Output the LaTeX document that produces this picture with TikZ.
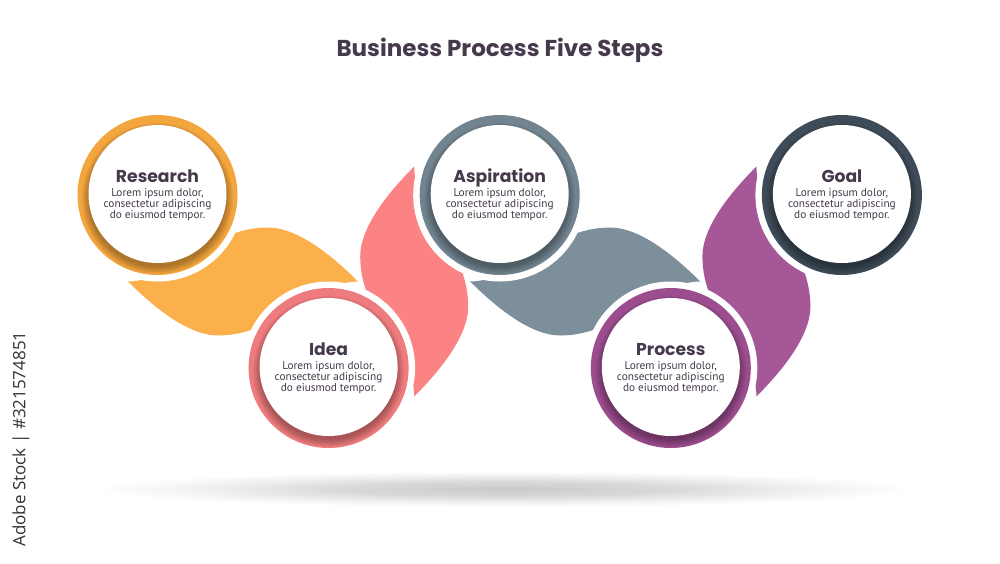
\documentclass[tikz,border=0pt]{standalone}
\usepackage{fontspec}
\setmainfont{PT Sans}
\newfontfamily\popfont{Poppins}
\newfontfamily\wmfont{Open Sans}
\definecolor{txt}{HTML}{45394B}
\definecolor{worange}{HTML}{FBB04C}
\definecolor{rorange}{HTML}{F3A53E}
\definecolor{wpink}{HTML}{FC8383}
\definecolor{rpink}{HTML}{EE7B7D}
\definecolor{wgrey}{HTML}{7D8F9B}
\definecolor{rgrey}{HTML}{728490}
\definecolor{wpurple}{HTML}{A65797}
\definecolor{rpurple}{HTML}{9B4D8E}
\definecolor{rslate}{HTML}{3E4B58}
\definecolor{wmark}{HTML}{333333}
\pgfdeclareradialshading{groundsh}{\pgfpoint{0bp}{0bp}}{color(0bp)=(black!21); color(10bp)=(black!15); color(18bp)=(black!6); color(25bp)=(white); color(50bp)=(white)}
\tikzset{
  hwave/.pic={\path[pic actions] (-115,0) .. controls (-70,0) and (-35,-54) .. (25,-54) .. controls (55,-54) and (90,-25) .. (115,0) .. controls (70,0) and (35,54) .. (-25,54) .. controls (-55,54) and (-90,25) .. (-115,0) -- cycle;},
  vwave/.pic={\path[pic actions] (0,115) .. controls (0,70) and (-54,35) .. (-54,-25) .. controls (-54,-55) and (-25,-90) .. (0,-115) .. controls (0,-70) and (54,-35) .. (54,25) .. controls (54,55) and (25,90) .. (0,115) -- cycle;},
  disk/.style={circle, fill=white, minimum size=138, inner sep=0},
  ttl/.style={font=\popfont\bfseries\fontsize{17.2}{20}\selectfont, text=txt, anchor=base, inner sep=0},
  bodyline/.style={font=\fontsize{11.3}{13}\selectfont, text=txt, anchor=base, inner sep=0},
  maintitle/.style={font=\popfont\bfseries\fontsize{23}{27}\selectfont, text=txt, anchor=base, inner sep=0},
  watermark/.style={font=\wmfont\fontsize{17}{19}\selectfont, text=wmark, rotate=90, inner sep=0}
}
\newcommand\stepdisc[5]{%
  \fill[white] (#2,#3) circle (86.5);
  \fill[#4] (#2,#3) circle (80);
  \begin{scope}
    \clip (#2,#3) circle (80);
    \foreach \k in {1,...,8}{\fill[black,opacity=0.04] (#2,#3+3.5) circle ({67.5+1.0*\k});}
  \end{scope}
  \node[disk] (#1) at (#2,#3-1) {};
  \node[ttl] (#1-title) at (#2,#3-13) {#5};
  \node[bodyline] (#1-l1) at (#2,#3+1.5) {Lorem ipsum dolor,};
  \node[bodyline] (#1-l2) at (#2,#3+12.5) {consectetur adipiscing};
  \node[bodyline] (#1-l3) at (#2,#3+23.5) {do eiusmod tempor.};
}
\begin{document}
\begin{tikzpicture}[x=1pt,y=-1pt]
\useasboundingbox (0,0) rectangle (1000,563);
\fill[white] (0,0) rectangle (1000,563);
% ground shadow
\shade[shading=groundsh] (505,489) ellipse (410 and 18);
% title
\node[maintitle] (title) at (500,56) {Business Process Five Steps};
% waves
\pic (orangewave) [fill=worange] at (243,281.5) {hwave};
\pic (pinkwave) [fill=wpink] at (414.2,281.5) {vwave};
\pic (greywave) [fill=wgrey] at (585.2,281.5) {hwave};
\pic (purplewave) [fill=wpurple] at (756.4,281.5) {vwave};
% steps
\stepdisc{research}{157.5}{195}{rorange}{Research}
\stepdisc{idea}{328.6}{368}{rpink}{Idea}
\stepdisc{aspiration}{499.7}{195}{rgrey}{Aspiration}
\stepdisc{process}{670.8}{368}{rpurple}{Process}
\stepdisc{goal}{841.9}{195}{rslate}{Goal}
% vertical stock label
\node[watermark] (stock) at (21,439) {Adobe Stock | \#321574851};
\end{tikzpicture}
\end{document}
